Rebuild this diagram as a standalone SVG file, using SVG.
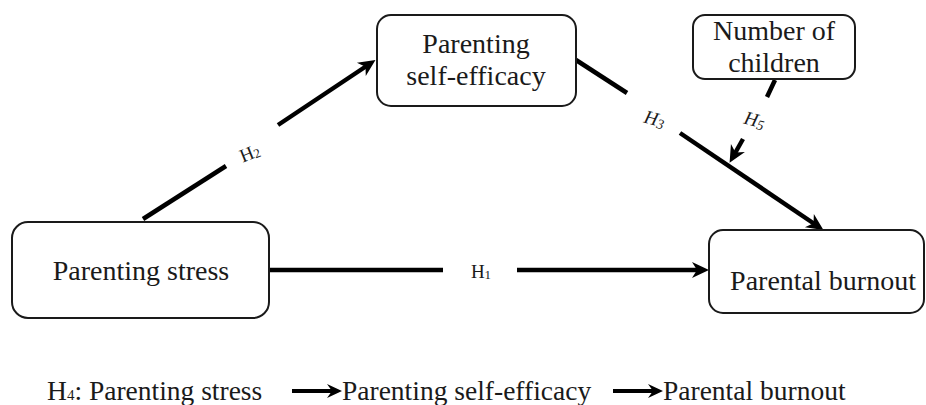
<svg xmlns="http://www.w3.org/2000/svg" width="926" height="405" viewBox="0 0 926 405">
<style>
.box{fill:#fff;stroke:#1a1a1a;stroke-width:2}
text{font-family:'Liberation Serif','Times New Roman','DejaVu Serif',serif;fill:#1a1a1a}
.t{font-size:28px;text-anchor:middle}
.bt{font-size:27.5px}
.h{font-size:19px;text-anchor:middle}
.hi{font-style:italic}
.c{stroke:#000;stroke-width:4.5;fill:none}
.cs{stroke:#000;stroke-width:4;fill:none}
</style>
<defs>
<marker id="ah" markerUnits="userSpaceOnUse" markerWidth="20" markerHeight="18" viewBox="-17 -9 18 18" refX="-9" refY="0" orient="auto">
<path d="M0,0 L-17,-8 L-12,0 L-17,8 Z" fill="#000"/>
</marker>
<marker id="ahs" markerUnits="userSpaceOnUse" markerWidth="17" markerHeight="16" viewBox="-15 -8 16 16" refX="-7" refY="0" orient="auto">
<path d="M0,0 L-15,-7 L-10,0 L-15,7 Z" fill="#000"/>
</marker>
</defs>

<g id="connectors">
<line class="c" x1="269" y1="270" x2="443" y2="270"/>
<line class="c" x1="517" y1="270" x2="700" y2="270" marker-end="url(#ah)"/>
<line class="c" x1="143" y1="219" x2="226" y2="166"/>
<line class="c" x1="278" y1="125" x2="368" y2="65" marker-end="url(#ah)"/>
<line class="c" x1="576" y1="60" x2="627" y2="93"/>
<line class="c" x1="680" y1="133" x2="816" y2="225" marker-end="url(#ah)"/>
<line class="c" x1="775" y1="80" x2="767" y2="97"/>
<line class="c" x1="743" y1="139" x2="734" y2="155" marker-end="url(#ah)"/>
<line class="cs" x1="292" y1="391" x2="335" y2="391" marker-end="url(#ahs)"/>
<line class="cs" x1="613" y1="391" x2="656" y2="391" marker-end="url(#ahs)"/>
</g>

<g id="labels">
<text class="h" x="481" y="278">H<tspan font-size="13" dy="1">1</tspan></text>
<text class="h" transform="translate(252,159) rotate(-22)">H<tspan font-size="13" dy="1">2</tspan></text>
<text class="h hi" transform="translate(653,125) rotate(15)">H<tspan font-size="14" dy="2">3</tspan></text>
<text class="h hi" transform="translate(753,126) rotate(15)">H<tspan font-size="14" dy="2">5</tspan></text>
</g>

<g id="node-stress">
<rect class="box" x="12" y="222" width="257" height="96" rx="16"/>
<text class="t" x="141" y="280">Parenting stress</text>
</g>

<g id="node-efficacy">
<rect class="box" x="377" y="15" width="199" height="91" rx="14"/>
<text class="t" x="476" y="53">Parenting</text>
<text class="t" x="476" y="85">self-efficacy</text>
</g>

<g id="node-children">
<rect class="box" x="693" y="15" width="162" height="64" rx="12"/>
<text class="t" x="774" y="40">Number of</text>
<text class="t" x="774" y="72">children</text>
</g>

<g id="node-burnout">
<rect class="box" x="709" y="230" width="215" height="83" rx="14"/>
<text class="t" x="823" y="290">Parental burnout</text>
</g>

<g id="legend">
<text class="bt" x="47" y="400">H<tspan font-size="15">4</tspan>: Parenting stress</text>
<text class="bt" x="342" y="400">Parenting self-efficacy</text>
<text class="bt" x="663" y="400">Parental burnout</text>
</g>
</svg>
